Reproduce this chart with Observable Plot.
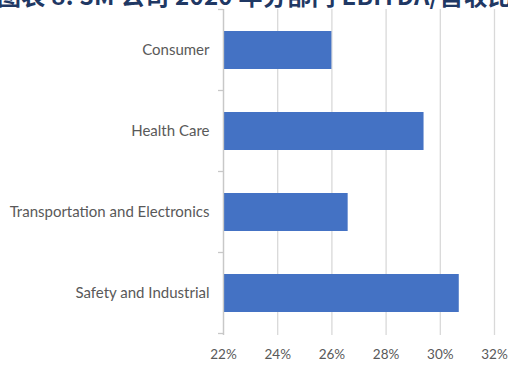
<!DOCTYPE html>
<html>
<head>
<meta charset="utf-8">
<script src="https://cdn.jsdelivr.net/npm/d3@7"></script>
<script src="https://cdn.jsdelivr.net/npm/@observablehq/plot@0.6"></script>
<style>
  html, body { margin: 0; padding: 0; background: #fff; overflow: hidden; }
  #wrap { position: relative; width: 508px; height: 365px; overflow: hidden; }
  #title { position: absolute; left: -3px; top: -18px; white-space: nowrap;
    font-family: "Noto Sans CJK SC", sans-serif; font-weight: bold; font-size: 24px;
    line-height: 26px; letter-spacing: 0.3px; color: #1f3864; z-index: 2; }
  #chart { position: absolute; left: 0; top: 0; }
</style>
</head>
<body>
<div id="wrap">
  <div id="chart"></div>
  <div id="title">图表 8:  3M 公司 2020 年分部门 EBITDA/营收比</div>
</div>
<script>
const categories = ["Consumer", "Health Care", "Transportation and Electronics", "Safety and Industrial"];
const margins = [26.0, 29.4, 26.6, 30.7];
const xTicks = [22, 24, 26, 28, 30, 32];

const data = categories.map((c, i) => ({category: c, value: margins[i]}));

const plot = Plot.plot({
  width: 508,
  height: 365,
  marginTop: 9,
  marginBottom: 30,
  marginLeft: 223,
  marginRight: 14,
  style: {fontFamily: "Lato, sans-serif", fontSize: "14px", color: "#595959", background: "#fff"},
  x: {domain: [22, 32], ticks: xTicks, tickFormat: d => d + "%", label: null},
  y: {domain: categories, paddingInner: 0.53, paddingOuter: 0.265, label: null},
  marks: [
    Plot.ruleX(xTicks, {stroke: "#d9d9d9", strokeWidth: 1.3}),
    Plot.barX(data, {x1: 22, x2: "value", y: "category", fill: "#4472c4"}),
    Plot.ruleX([22], {stroke: "#c8c8c8", strokeWidth: 1.3}),
    Plot.axisX({ticks: xTicks, tickSize: 0, tickPadding: 14, tickFormat: d => d + "%", fill: "#595959", fontSize: "13.5px"}),
    Plot.axisY({tickSize: 0, tickPadding: 14, fill: "#595959", fontSize: "15px"})
  ]
});

// category-boundary tick marks on the category axis, placed from the band scale
const ys = plot.scale("y");
const xs = plot.scale("x");
const x0 = xs.apply(xs.domain[0]);
const step = ys.step, bw = ys.bandwidth;
const bounds = categories.map(c => ys.apply(c) - (step - bw) / 2);
bounds.push(ys.apply(categories[categories.length - 1]) + bw + (step - bw) / 2);
const g = d3.select(plot).append("g").attr("stroke", "#c8c8c8").attr("stroke-width", 1.3);
bounds.forEach(b => g.append("line").attr("x1", x0 - 5).attr("x2", x0).attr("y1", b).attr("y2", b));

document.getElementById("chart").appendChild(plot);
</script>
</body>
</html>
